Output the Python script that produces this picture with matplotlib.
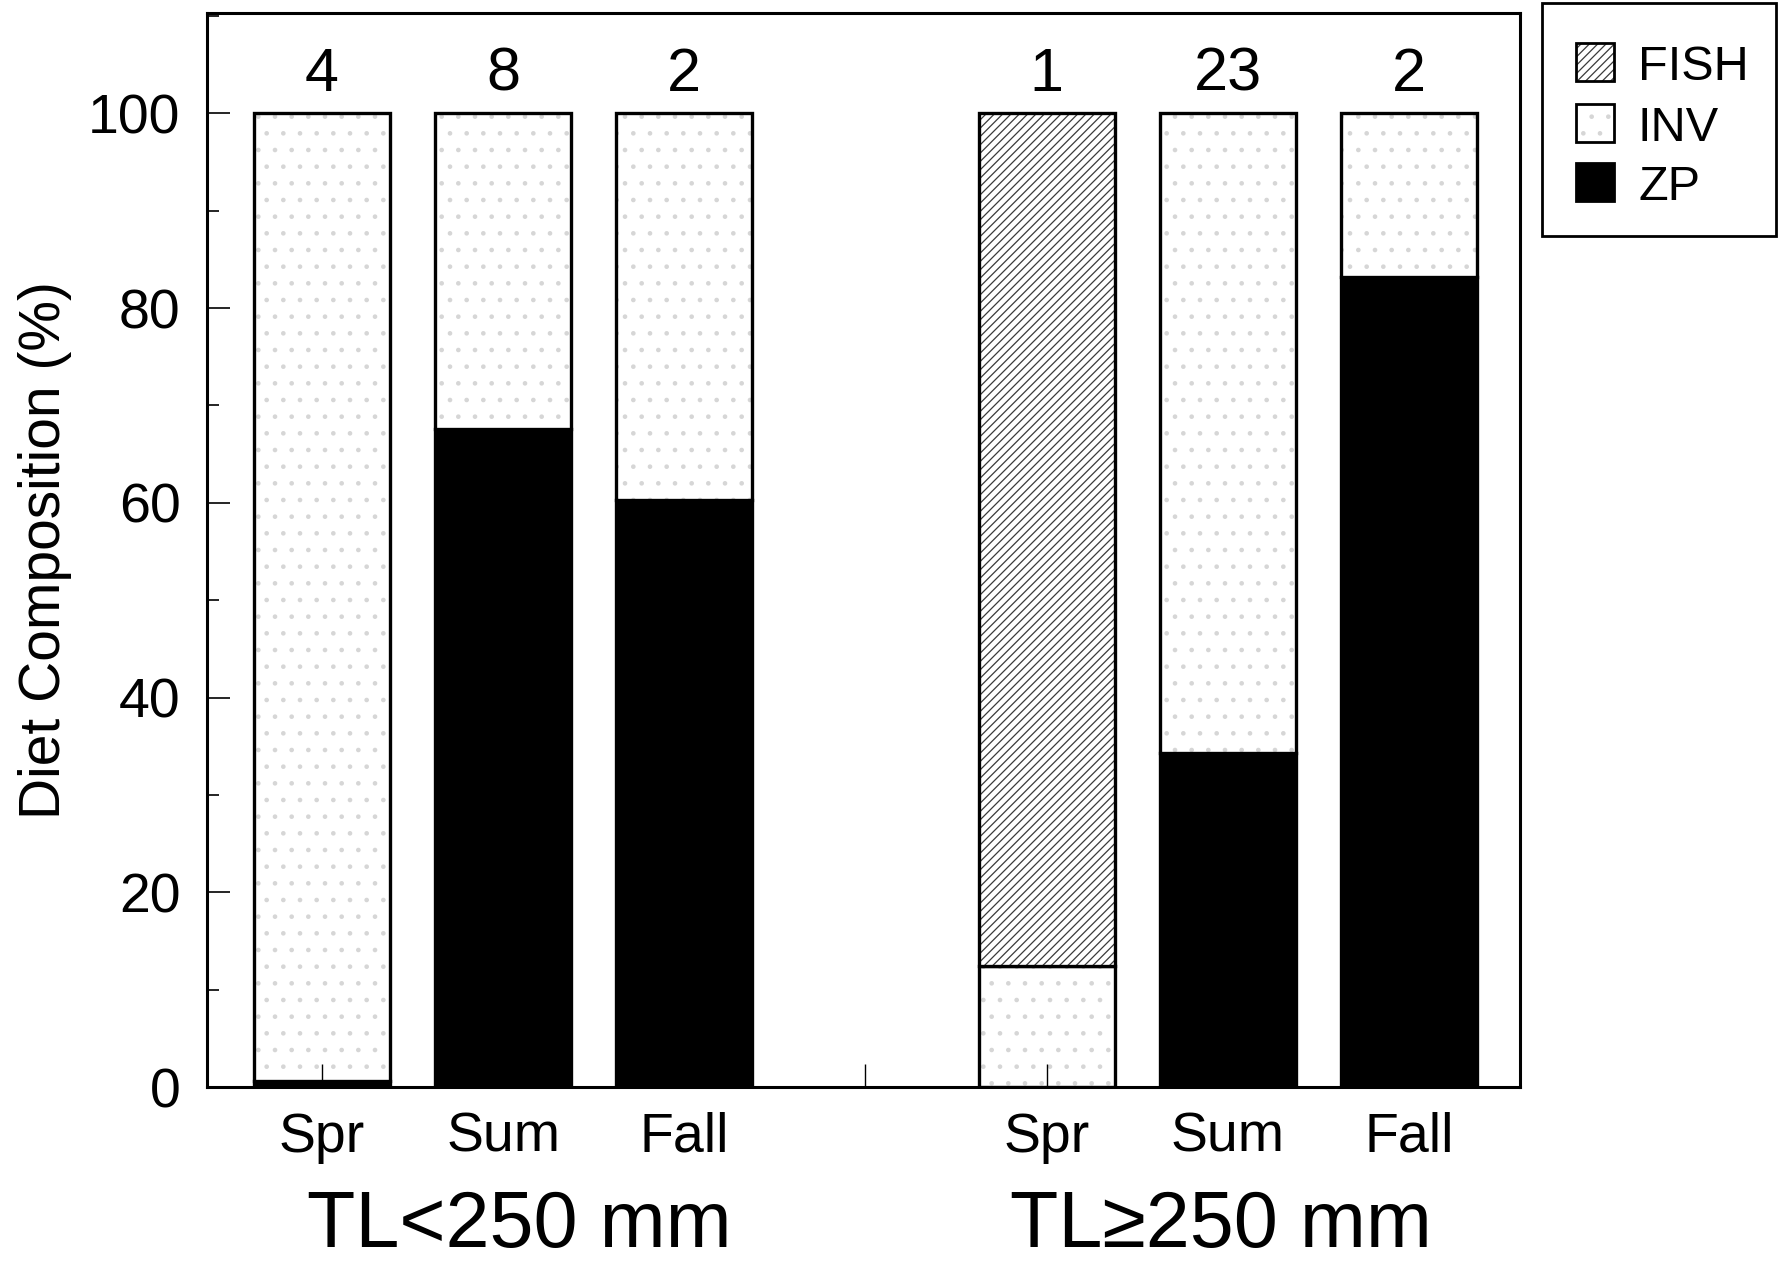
import matplotlib
matplotlib.use('Agg')
import matplotlib.pyplot as plt
import matplotlib.transforms as mtransforms
from matplotlib.patches import Rectangle
from matplotlib.ticker import MultipleLocator, NullLocator
import numpy as np

plt.rcParams['font.family'] = ['Liberation Sans', 'DejaVu Sans']
plt.rcParams['hatch.linewidth'] = 0.9

# ---- data ----
seasons = ['Spr', 'Sum', 'Fall', 'Spr', 'Sum', 'Fall']
positions = [1, 2, 3, 5, 6, 7]
group_labels = ['TL<250 mm', 'TL\u2265250 mm']
group_centers = [2.09, 5.96]
counts = ['4', '8', '2', '1', '23', '2']
zp = [0.6, 67.6, 60.3, 0.0, 34.3, 83.2]
inv = [99.4, 32.4, 39.7, 12.4, 65.7, 16.8]
fish = [0.0, 0.0, 0.0, 87.6, 0.0, 0.0]
legend_labels = ['FISH', 'INV', 'ZP']

W, H = 1778, 1262
fig = plt.figure(figsize=(W / 100, H / 100), dpi=100)
ax = fig.add_axes([207 / W, 1 - 1087 / H, (1520 - 207) / W, (1087 - 13) / H])

bw = 0.75
zp_a = np.array(zp)
inv_a = np.array(inv)
fish_a = np.array(fish)
edge_lw = 2.4

INV_DOT = '#d6d6d6'
FISH_LINE = '#3a3a3a'

# ZP
ax.bar(positions, zp_a, bw, color='black', edgecolor='black', linewidth=edge_lw)
# INV fill (stipple) + outline
ax.bar(positions, inv_a, bw, bottom=zp_a, facecolor='white', edgecolor=INV_DOT,
       hatch='.', linewidth=0)
ax.bar(positions, inv_a, bw, bottom=zp_a, fill=False, edgecolor='black', linewidth=edge_lw)
# FISH fill (hatched) + outline
mask = fish_a > 0
pos_f = np.array(positions)[mask]
ax.bar(pos_f, fish_a[mask], bw, bottom=(zp_a + inv_a)[mask], facecolor='white',
       edgecolor=FISH_LINE, hatch='////', linewidth=0)
ax.bar(pos_f, fish_a[mask], bw, bottom=(zp_a + inv_a)[mask], fill=False,
       edgecolor='black', linewidth=edge_lw)

ax.set_xlim(0.365, 7.613)
ax.set_ylim(0, 110.3)

ax.set_xticks([1, 2, 3, 4, 5, 6, 7])
ax.set_xticklabels(['Spr', 'Sum', 'Fall', '', 'Spr', 'Sum', 'Fall'])
ax.xaxis.set_minor_locator(NullLocator())
ax.yaxis.set_major_locator(MultipleLocator(20))
ax.yaxis.set_minor_locator(MultipleLocator(10))

ax.tick_params(axis='both', which='both', direction='in', top=False, right=False)
ax.tick_params(axis='y', which='major', length=16.5, width=1.2, labelsize=40, pad=19)
ax.tick_params(axis='y', which='minor', length=8.6, width=1.2)
ax.tick_params(axis='x', which='major', length=16.5, width=1.0, labelsize=40, pad=18)

for s in ax.spines.values():
    s.set_linewidth(2.2)

ax.set_ylabel('Diet Composition (%)', fontsize=41, labelpad=12)

for x, c in zip(positions, counts):
    ax.text(x, 102.3, c, ha='center', va='baseline', fontsize=44)

trans = mtransforms.blended_transform_factory(ax.transData, fig.transFigure)
for x, g in zip(group_centers, group_labels):
    ax.text(x, 1 - 1247 / H, g, transform=trans, ha='center', va='baseline', fontsize=57)

# ---- legend (drawn in figure pixel layout) ----
def fx(px):
    return px / W

def fy(py):
    return 1 - py / H

frame = Rectangle((fx(1542), fy(236)), fx(1776) - fx(1542), fy(3) - fy(236),
                  transform=fig.transFigure, facecolor='white', edgecolor='black',
                  linewidth=2.0, zorder=5)
fig.add_artist(frame)

styles = [
    dict(face='white', hatch='////', hcol=FISH_LINE),
    dict(face='white', hatch='.', hcol=INV_DOT),
    dict(face='black', hatch=None, hcol='black'),
]
row_tops = [43, 104, 163]
sq = 38
for lab, st, top in zip(legend_labels, styles, row_tops):
    r_fill = Rectangle((fx(1576), fy(top + sq)), fx(1576 + sq) - fx(1576), fy(top) - fy(top + sq),
                       transform=fig.transFigure, facecolor=st['face'],
                       edgecolor=st['hcol'], hatch=st['hatch'], linewidth=0, zorder=6)
    r_edge = Rectangle((fx(1576), fy(top + sq)), fx(1576 + sq) - fx(1576), fy(top) - fy(top + sq),
                       transform=fig.transFigure, fill=False, edgecolor='black',
                       linewidth=2.0, zorder=7)
    fig.add_artist(r_fill)
    fig.add_artist(r_edge)
    fig.text(fx(1638), fy(top + sq - 1), lab, ha='left', va='baseline', fontsize=35, zorder=8)

fig.savefig('out.png', dpi=100, facecolor='white')
